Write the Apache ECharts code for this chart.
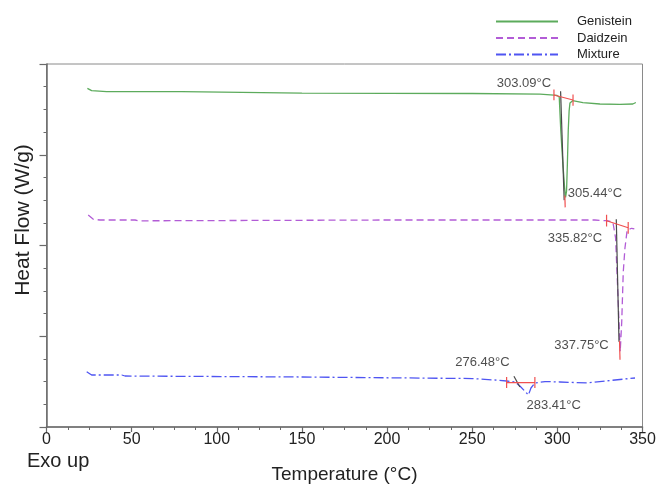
<!DOCTYPE html>
<html>
<head>
<meta charset="utf-8">
<script src="https://cdn.jsdelivr.net/npm/echarts@6/dist/echarts.min.js"></script>
<style>
  html, body { margin: 0; padding: 0; background: #fff; }
  #chart { width: 662px; height: 484px; }
</style>
</head>
<body>
<div id="chart"></div>
<script>
// DSC curves, temperature (°C) vs heat flow (arbitrary offset, W/g)
const genisteinT = [24.0, 26.5, 35.3, 79.4, 80.2, 150, 250, 289.8, 298.0, 299.8, 301.1, 302.0, 303.2, 304.2, 304.8, 305.4, 305.9, 306.4, 306.9, 307.4, 309.0, 315.0, 325.0, 336.7, 344.3, 346.1]
const genisteinHF = [3.732, 3.706, 3.695, 3.695, 3.680, 3.680, 3.675, 3.669, 3.658, 3.653, 3.636, 3.27, 2.91, 2.65, 2.53, 2.60, 2.91, 3.27, 3.48, 3.57, 3.596, 3.574, 3.559, 3.554, 3.559, 3.576]

const daidzeinT = [24.5, 27.5, 31.4, 52, 54, 200, 322.0, 328.9, 332.6, 334.2, 335.4, 336.2, 336.9, 337.8, 338.7, 339.7, 341.0, 343.6, 345.2]
const daidzeinHF = [2.336, 2.289, 2.281, 2.281, 2.272, 2.281, 2.281, 2.273, 2.259, 2.083, 1.532, 1.157, 0.83, 1.157, 1.708, 1.972, 2.171, 2.190, 2.182]

const mixtureT = [23.6, 26.5, 44.2, 46.1, 150, 250, 263.3, 270.2, 275.1, 278.0, 283.0, 284.5, 286.8, 292.7, 301.5, 317.4, 328.0, 345.6]
const mixtureHF = [0.609, 0.573, 0.573, 0.562, 0.551, 0.534, 0.518, 0.507, 0.496, 0.452, 0.353, 0.430, 0.485, 0.501, 0.496, 0.485, 0.507, 0.540]

// onset / peak construction lines
const redSegments = [
  [[298.0, 3.658], [309.2, 3.603]],
  [[298.0, 3.72], [298.0, 3.60]],
  [[309.2, 3.665], [309.2, 3.54]],
  [[304.4, 2.55], [304.6, 2.42]],
  [[328.9, 2.273], [341.6, 2.196]],
  [[328.9, 2.34], [328.9, 2.21]],
  [[341.6, 2.26], [341.6, 2.13]],
  [[336.5, 0.95], [336.8, 0.74]],
  [[270.2, 0.488], [286.8, 0.488]],
  [[270.2, 0.55], [270.2, 0.43]],
  [[286.8, 0.55], [286.8, 0.43]],
]
const blackSegments = [
  [[301.9, 3.70], [304.0, 2.50]],
  [[334.6, 2.29], [336.2, 0.94]],
  [[274.5, 0.56], [278.0, 0.44]],
]

const annotationText = ['303.09°C', '305.44°C', '335.82°C', '337.75°C', '276.48°C', '283.41°C']
const annotationAt = [[280.4, 3.791], [322.1, 2.579], [310.3, 2.083], [314.2, 0.904], [256.0, 0.716], [297.8, 0.242]]

const xTicks = [0, 50, 100, 150, 200, 250, 300, 350]

const zip = (xs, ys) => xs.map((x, i) => [x, ys[i]])
const FONT = 'Liberation Sans, Arial, sans-serif'

const chart = echarts.init(document.getElementById('chart'))

const curveSeries = [
  { name: 'Genistein', data: zip(genisteinT, genisteinHF), color: '#5cab5c', type: 'solid' },
  { name: 'Daidzein', data: zip(daidzeinT, daidzeinHF), color: '#b25cd6', type: [7, 4] },
  { name: 'Mixture', data: zip(mixtureT, mixtureHF), color: '#4f55f2', type: [10, 3, 2, 3] },
].map((s) => ({
  name: s.name,
  type: 'line',
  data: s.data,
  symbol: 'none',
  color: s.color,
  lineStyle: { width: 1.3, type: s.type, color: s.color },
  z: 2,
}))

const segSeries = (segs, color, z) => segs.map((seg) => ({
  type: 'line',
  data: seg,
  symbol: 'none',
  silent: true,
  lineStyle: { width: 1.2, color },
  z,
}))

chart.setOption({
  animation: false,
  backgroundColor: '#fff',
  grid: {
    left: 46.5,
    right: 19.5,
    top: 64,
    bottom: 57,
    outerBoundsMode: 'none',
    containLabel: false,
    show: true,
    borderColor: '#8a8a8a',
    borderWidth: 1,
  },
  legend: {
    orient: 'vertical',
    left: 490,
    top: 9.5,
    itemWidth: 62,
    itemHeight: 14,
    itemGap: 2.5,
    data: ['Genistein', 'Daidzein', 'Mixture'],
    itemStyle: { opacity: 0 },
    textStyle: { fontFamily: FONT, fontSize: 13, color: '#222', padding: [0, 0, 0, 14], lineHeight: 14 },
  },
  xAxis: {
    type: 'value',
    min: 0,
    max: 350,
    interval: 50,
    name: 'Temperature (°C)',
    nameLocation: 'middle',
    nameGap: 38,
    nameTextStyle: { fontFamily: FONT, fontSize: 19, color: '#222' },
    axisLine: { onZero: false, lineStyle: { color: '#6a6a6a', width: 1.5 } },
    axisTick: { show: true, length: 5, lineStyle: { color: '#6a6a6a', width: 1.2 } },
    minorTick: { show: true, splitNumber: 4, length: 3, lineStyle: { color: '#6a6a6a' } },
    axisLabel: {
      fontFamily: FONT,
      fontSize: 16,
      color: '#222',
      margin: 5,
      formatter: (v) => (xTicks.includes(v) ? String(v) : ''),
    },
    splitLine: { show: false },
  },
  yAxis: {
    type: 'value',
    min: 0,
    max: 4,
    interval: 1,
    axisLine: { show: true, onZero: false, lineStyle: { color: '#6a6a6a', width: 1.5 } },
    axisTick: { show: true, length: 7, lineStyle: { color: '#6a6a6a', width: 1.2 } },
    minorTick: { show: true, splitNumber: 4, length: 3, lineStyle: { color: '#6a6a6a' } },
    axisLabel: { show: false },
    splitLine: { show: false },
  },
  graphic: [
    {
      type: 'text',
      x: 23,
      y: 220,
      rotation: Math.PI / 2,
      style: {
        text: 'Heat Flow (W/g)',
        fontFamily: FONT,
        fontSize: 21,
        fill: '#222',
        align: 'center',
        verticalAlign: 'middle',
      },
    },
    {
      type: 'text',
      left: 27,
      top: 451,
      style: { text: 'Exo up', fontFamily: FONT, fontSize: 20, fill: '#222' },
    },
  ],
  series: [
    ...curveSeries,
    ...segSeries(blackSegments, '#4a4a4a', 3),
    ...segSeries(redSegments, '#f05050', 4),
    {
      type: 'scatter',
      symbolSize: 1,
      silent: true,
      itemStyle: { color: 'rgba(0,0,0,0)' },
      data: annotationAt.map((p, i) => ({ value: p, name: annotationText[i] })),
      label: {
        show: true,
        position: 'inside',
        formatter: (p) => p.name,
        fontFamily: FONT,
        fontSize: 13,
        color: '#222',
      },
      z: 5,
    },
  ],
})
</script>
</body>
</html>
